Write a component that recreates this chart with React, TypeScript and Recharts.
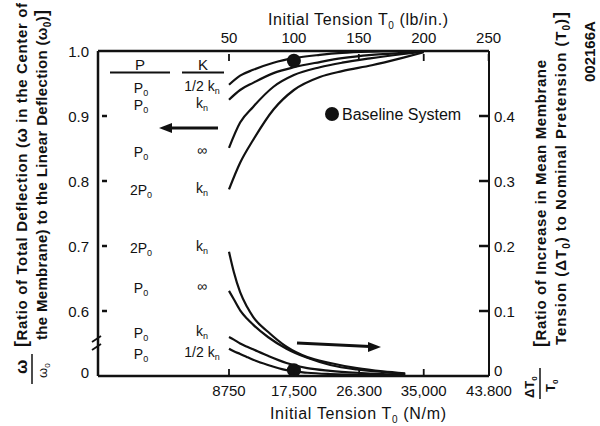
import React from 'react';
import { ComposedChart, Line, Scatter, XAxis, YAxis } from 'recharts';

const FONT = '"Liberation Sans", Arial, Helvetica, sans-serif';
const INK = '#111';

// initial tension (N/m) where the upper curves were read
const tensionUpper = [8750, 10250, 12000, 14750, 17500, 21000, 24000, 28000, 32000, 35000];
// deflection ratio w / w0 (left axis), top curve first
const ratioP0HalfKn = [0.948, 0.962, 0.971, 0.982, 0.989, 0.994, 0.997, 0.999, 1.0, 1.0];
const ratioP0Kn = [0.925, 0.94, 0.951, 0.966, 0.975, 0.983, 0.989, 0.994, 0.997, 1.0];
const ratioP0Inf = [0.851, 0.89, 0.914, 0.945, 0.963, 0.975, 0.982, 0.989, 0.995, 0.999];
const ratio2P0Kn = [0.787, 0.828, 0.863, 0.91, 0.94, 0.96, 0.969, 0.978, 0.989, 0.998];

// initial tension (N/m) where the lower curves were read
const tensionLower = [8750, 9400, 10250, 11200, 12000, 14000, 16500, 19300, 22400, 26000, 29500, 32500];
// increase in mean tension / pretension (right axis), top curve first
const incr2P0Kn = [0.191, 0.16, 0.129, 0.106, 0.091, 0.068, 0.045, 0.029, 0.02, 0.012, 0.007, 0.004];
const incrP0Inf = [0.131, 0.118, 0.101, 0.088, 0.079, 0.06, 0.042, 0.028, 0.017, 0.01, 0.006, 0.003];
const incrP0Kn = [0.06, 0.056, 0.05, 0.045, 0.041, 0.031, 0.02, 0.012, 0.008, 0.005, 0.003, 0.002];
const incrP0HalfKn = [0.042, 0.038, 0.034, 0.029, 0.025, 0.017, 0.009, 0.005, 0.003, 0.002, 0.001, 0.0005];

// baseline system
const baselineTension = [17500];
const baselineRatio = [0.985];
const baselineIncr = [0.009];

const bottomTicks = [8750, 17500, 26300, 35000, 43800];
const bottomTickLabels = ['8750', '17,500', '26.300', '35,000', '43.800'];
const topTicks = [50, 100, 150, 200, 250]; // lb/in.
const leftTicks = [0.5, 0.6, 0.7, 0.8, 0.9, 1.0];
const leftTickLabels = ['0', '0.6', '0.7', '0.8', '0.9', '1.0'];
const rightTicks = [0, 0.1, 0.2, 0.3, 0.4];
const rightTickLabels = ['0', '0.1', '0.2', '0.3', '0.4'];

// curve labels, upper group then lower group
const tableLoads = [['P', '0'], ['P', '0'], ['P', '0'], ['2P', '0'], ['2P', '0'], ['P', '0'], ['P', '0'], ['P', '0']];
const tableStiffness = [['1/2 k', 'n'], ['k', 'n'], ['\u221e', ''], ['k', 'n'], ['k', 'n'], ['\u221e', ''], ['k', 'n'], ['1/2 k', 'n']];

const N_PER_LB_IN = 175;
const X_DOMAIN = [-8910, 43800];

const pairs = (xs: number[], ys: number[]) => xs.map((t, i) => ({ t, v: ys[i] }));

const txt = { fontFamily: FONT, fill: INK };

const BottomTick = (p: any) => {
  const i = bottomTicks.indexOf(p.payload.value);
  return (
    <g>
      <line x1={p.x} y1={p.y} x2={p.x} y2={p.y - 7} stroke={INK} strokeWidth={1.8} />
      <text x={p.x} y={p.y + 20} textAnchor="middle" fontSize={15} {...txt}>{bottomTickLabels[i]}</text>
    </g>
  );
};

const TopTick = (p: any) => {
  const i = topTicks.map((v) => v * N_PER_LB_IN).indexOf(p.payload.value);
  return (
    <g>
      <line x1={p.x} y1={p.y + 3} x2={p.x} y2={p.y + 10} stroke={INK} strokeWidth={1.8} />
      <text x={p.x} y={p.y - 8} textAnchor="middle" fontSize={15} {...txt}>{topTicks[i]}</text>
    </g>
  );
};

const LeftTick = (p: any) => {
  const i = leftTicks.indexOf(p.payload.value);
  const inner = i > 0 && i < leftTicks.length - 1;
  return (
    <g>
      {inner && <line x1={p.x + 4} y1={p.y} x2={p.x + 9} y2={p.y} stroke={INK} strokeWidth={2.5} />}
      <text x={p.x - 9} y={p.y + (i === 0 ? 1.5 : 5.5)} textAnchor="end" fontSize={15} {...txt}>
        {leftTickLabels[i]}
      </text>
    </g>
  );
};

const RightTick = (p: any) => {
  const i = rightTicks.indexOf(p.payload.value);
  return (
    <g>
      {i > 0 && <line x1={p.x - 10} y1={p.y} x2={p.x} y2={p.y} stroke={INK} strokeWidth={2.5} />}
      <text x={p.x + 5} y={p.y + (i === 0 ? 0 : 5.5)} textAnchor="start" fontSize={15} {...txt}>
        {rightTickLabels[i]}
      </text>
    </g>
  );
};

// subscript, optionally followed by more text back on the baseline
const sub = (c: string, rest?: string, size = 10, shift = 4) => (
  <>
    <tspan dy={shift} fontSize={size}>{c}</tspan>
    {rest !== undefined && <tspan dy={-shift}>{rest}</tspan>}
  </>
);

const VText = ({ x, y, size = 14, weight = 'bold', len, children }: any) => (
  <text
    transform={`translate(${x},${y}) rotate(-90)`}
    fontSize={size}
    fontWeight={weight}
    textLength={len}
    lengthAdjust={len ? 'spacing' : undefined}
    {...txt}
  >
    {children}
  </text>
);

const Overlay = () => {
  const rowY = [88, 105, 152, 190, 248, 288, 333, 354];
  return (
    <svg width={600} height={426} style={{ position: 'absolute', left: 0, top: 0, pointerEvents: 'none' }}>
      {/* axis titles */}
      <text x={358} y={25} textAnchor="middle" fontSize={16} textLength={180} lengthAdjust="spacing" {...txt}>
        Initial Tension T{sub('0', ' (lb/in.)')}
      </text>
      <text x={358} y={419} textAnchor="middle" fontSize={16} textLength={176} lengthAdjust="spacing" {...txt}>
        Initial Tension T{sub('0', ' (N/m)')}
      </text>

      {/* left title */}
      <VText x={27} y={347} size={15} len={344}>
        <tspan fontSize={18}>[</tspan>Ratio of Total Deflection (<tspan fontSize={17}>ω</tspan>
        <tspan> in the Center of</tspan>
      </VText>
      <VText x={47} y={340} size={15} len={330}>
        the Membrane) to the Linear Deflection (ω{sub('0', ')')}
        <tspan fontSize={18}>]</tspan>
      </VText>
      <VText x={27} y={374} size={17}>ω</VText>
      <line x1={32} y1={354} x2={32} y2={384} stroke={INK} strokeWidth={1.5} />
      <VText x={47} y={378} size={13} weight="normal">
        ω{sub('0', undefined, 8, 3)}
      </VText>

      {/* right title */}
      <VText x={546} y={347} size={15} len={287}>
        <tspan fontSize={18}>[</tspan>Ratio of Increase in Mean Membrane
      </VText>
      <VText x={566} y={345} size={15} len={333}>
        Tension (ΔT{sub('0', ') to Nominal Pretension (T')}
        {sub('0', ')')}
        <tspan fontSize={18}>]</tspan>
      </VText>
      <VText x={534} y={398} size={13}>
        ΔT{sub('0', undefined, 8, 3)}
      </VText>
      <line x1={540} y1={368} x2={540} y2={399} stroke={INK} strokeWidth={1.5} />
      <VText x={555} y={392} size={13}>
        T{sub('0', undefined, 8, 3)}
      </VText>
      <VText x={595} y={82} size={15}>002166A</VText>

      {/* axis break */}
      <line x1={92} y1={342} x2={101} y2={336} stroke={INK} strokeWidth={1.8} />
      <line x1={92} y1={350} x2={101} y2={344} stroke={INK} strokeWidth={1.8} />

      {/* table */}
      <text x={140} y={70} textAnchor="middle" fontSize={15} {...txt}>P</text>
      <text x={203} y={70} textAnchor="middle" fontSize={15} {...txt}>K</text>
      <line x1={110} y1={72.5} x2={170} y2={72.5} stroke={INK} strokeWidth={2} />
      <line x1={182} y1={72.5} x2={224} y2={72.5} stroke={INK} strokeWidth={2} />
      {tableLoads.map((l, i) => (
        <text key={'p' + i} x={141} y={rowY[i] + 5} textAnchor="middle" fontSize={14} {...txt}>
          {l[0]}
          {sub(l[1], undefined, 9, 3)}
        </text>
      ))}
      {tableStiffness.map((k, i) => (
        <text key={'k' + i} x={202} y={rowY[i] + 3} textAnchor="middle" fontSize={14} {...txt}>
          {k[0]}
          {k[1] ? sub(k[1], undefined, 9, 3) : null}
        </text>
      ))}

      {/* arrows */}
      <line x1={218} y1={128} x2={170} y2={128} stroke={INK} strokeWidth={3} />
      <polygon points="159,128 172,123 172,133" fill={INK} />
      <line x1={297} y1={343} x2={370} y2={346.5} stroke={INK} strokeWidth={3} />
      <polygon points="381,347 368,342 368,352" fill={INK} />

      {/* baseline key */}
      <circle cx={332} cy={114} r={7} fill={INK} />
      <text x={342} y={120} fontSize={16} {...txt}>Baseline System</text>
    </svg>
  );
};

const curve = (data: any[], yAxisId: string, key: string) => (
  <Line
    key={key}
    data={data}
    dataKey="v"
    xAxisId="bottom"
    yAxisId={yAxisId}
    type="monotone"
    stroke={INK}
    strokeWidth={2.2}
    dot={false}
    isAnimationActive={false}
  />
);

const dot = (p: any) => <circle cx={p.cx} cy={p.cy} r={7} fill={INK} />;

export default function App() {
  const axisLine = { stroke: INK, strokeWidth: 2.5 };
  return (
    <div style={{ position: 'absolute', left: 0, top: 0, width: 600, height: 426, background: '#fff' }}>
      <ComposedChart width={600} height={426} margin={{ top: 31, right: 71, bottom: 30, left: 58 }}>
        <XAxis
          xAxisId="bottom"
          dataKey="t"
          type="number"
          domain={X_DOMAIN}
          allowDataOverflow
          ticks={bottomTicks}
          interval={0}
          tickSize={0}
          tickMargin={0}
          tickLine={false}
          tick={(p: any) => <BottomTick {...p} />}
          axisLine={axisLine}
          height={20}
        />
        <XAxis
          xAxisId="top"
          orientation="top"
          dataKey="t"
          type="number"
          domain={X_DOMAIN}
          allowDataOverflow
          ticks={topTicks.map((v) => v * N_PER_LB_IN)}
          interval={0}
          tickSize={0}
          tickMargin={0}
          tickLine={false}
          tick={(p: any) => <TopTick {...p} />}
          axisLine={axisLine}
          height={20}
        />
        <YAxis
          yAxisId="left"
          type="number"
          domain={[0.5, 1]}
          allowDataOverflow
          ticks={leftTicks}
          interval={0}
          tickSize={0}
          tickMargin={0}
          tickLine={false}
          tick={(p: any) => <LeftTick {...p} />}
          axisLine={axisLine}
          width={40}
        />
        <YAxis
          yAxisId="right"
          orientation="right"
          type="number"
          domain={[0, 0.5]}
          allowDataOverflow
          ticks={rightTicks}
          interval={0}
          tickSize={0}
          tickMargin={0}
          tickLine={false}
          tick={(p: any) => <RightTick {...p} />}
          axisLine={{ stroke: INK, strokeWidth: 2 }}
          width={40}
        />
        {curve(pairs(tensionUpper, ratioP0HalfKn), 'left', 'u1')}
        {curve(pairs(tensionUpper, ratioP0Kn), 'left', 'u2')}
        {curve(pairs(tensionUpper, ratioP0Inf), 'left', 'u3')}
        {curve(pairs(tensionUpper, ratio2P0Kn), 'left', 'u4')}
        {curve(pairs(tensionLower, incr2P0Kn), 'right', 'l1')}
        {curve(pairs(tensionLower, incrP0Inf), 'right', 'l2')}
        {curve(pairs(tensionLower, incrP0Kn), 'right', 'l3')}
        {curve(pairs(tensionLower, incrP0HalfKn), 'right', 'l4')}
        <Scatter
          data={pairs(baselineTension, baselineRatio)}
          dataKey="v"
          xAxisId="bottom"
          yAxisId="left"
          shape={dot}
          isAnimationActive={false}
        />
        <Scatter
          data={pairs(baselineTension, baselineIncr)}
          dataKey="v"
          xAxisId="bottom"
          yAxisId="right"
          shape={dot}
          isAnimationActive={false}
        />
      </ComposedChart>
      <Overlay />
    </div>
  );
}
